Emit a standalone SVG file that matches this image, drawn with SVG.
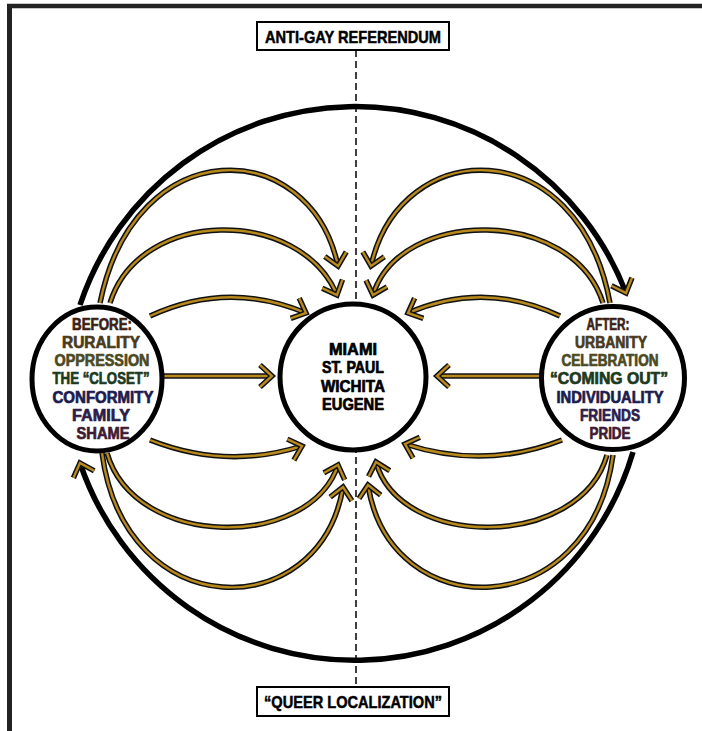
<svg xmlns="http://www.w3.org/2000/svg" width="702" height="731" viewBox="0 0 702 731">
<style>
  .frame{stroke:#222;fill:none}
  .blk{fill:none;stroke:#111;stroke-width:5.5}
  .gld{fill:none;stroke:#b8891c;stroke-width:2.4}
  .big{fill:none;stroke:#000;stroke-width:5.5}
  .node{fill:#fff;stroke:#000;stroke-width:5}
  .box{fill:#fff;stroke:#000;stroke-width:2}
  .t{font-family:"Liberation Sans",Arial,sans-serif;font-weight:700;text-anchor:middle;font-size:16px;stroke-width:0.7px;stroke-linejoin:round}
  .tt{font-family:"Liberation Sans",Arial,sans-serif;font-weight:700;text-anchor:middle;font-size:17px;fill:#000;stroke:#000;stroke-width:0.5px}
</style>
<defs>
  <marker id="ch" markerUnits="userSpaceOnUse" viewBox="-20 -16 26 32" refX="0" refY="0" markerWidth="26" markerHeight="32" orient="auto" overflow="visible">
    <path d="M-12,-11 L0,0 L-12,11" fill="none" stroke="#111" stroke-width="5.5" stroke-linejoin="miter"/>
    <path d="M-12,-11 L0,0 L-12,11" fill="none" stroke="#b8891c" stroke-width="2.4" stroke-linejoin="miter"/>
  </marker>
</defs>
<rect width="702" height="731" fill="#fff"/>
<g id="frame">
  <line class="frame" x1="7" y1="6" x2="702" y2="6" stroke-width="4.5"/>
  <line class="frame" x1="9.5" y1="4" x2="9.5" y2="731" stroke-width="5"/>
</g>
<g id="connectors">
  <line x1="356" y1="50" x2="356" y2="687" stroke="#000" stroke-width="1.5" stroke-dasharray="7,4"/>
  <path class="big" d="M80,305 A290,290 0 0 1 626,293" marker-end="url(#ch)"/>
  <path class="big" d="M633,452 A290,290 0 0 1 80,463" marker-end="url(#ch)"/>
  <g id="L1"><path class="blk" d="M100,303 C135,130 310,135 338,266"/><path class="gld" d="M100,303 C135,130 310,135 338,266" marker-end="url(#ch)"/></g>
  <g id="L2"><path class="blk" d="M110,303 C140,207 300,207 337,295"/><path class="gld" d="M110,303 C140,207 300,207 337,295" marker-end="url(#ch)"/></g>
  <g id="L3"><path class="blk" d="M150,316 Q228,280 306,313"/><path class="gld" d="M150,316 Q228,280 306,313" marker-end="url(#ch)"/></g>
  <g id="L4"><path class="blk" d="M158,376 L272,376"/><path class="gld" d="M158,376 L272,376" marker-end="url(#ch)"/></g>
  <g id="LB1"><path class="blk" d="M102,453 C125,626 320,626 343,487"/><path class="gld" d="M102,453 C125,626 320,626 343,487" marker-end="url(#ch)"/></g>
  <g id="LB2"><path class="blk" d="M107,453 C135,550 310,550 338,465"/><path class="gld" d="M107,453 C135,550 310,550 338,465" marker-end="url(#ch)"/></g>
  <g id="LB3"><path class="blk" d="M150,440 Q226,470 302,446"/><path class="gld" d="M150,440 Q226,470 302,446" marker-end="url(#ch)"/></g>
  <g id="R1"><path class="blk" d="M610,303 C578,130 400,135 371,266"/><path class="gld" d="M610,303 C578,130 400,135 371,266" marker-end="url(#ch)"/></g>
  <g id="R2"><path class="blk" d="M603,303 C573,207 400,207 373,295"/><path class="gld" d="M603,303 C573,207 400,207 373,295" marker-end="url(#ch)"/></g>
  <g id="R3"><path class="blk" d="M560,316 Q484,280 408,313"/><path class="gld" d="M560,316 Q484,280 408,313" marker-end="url(#ch)"/></g>
  <g id="R4"><path class="blk" d="M545,376 L437,376"/><path class="gld" d="M545,376 L437,376" marker-end="url(#ch)"/></g>
  <g id="RB1"><path class="blk" d="M613,455 C590,626 390,626 368,485"/><path class="gld" d="M613,455 C590,626 390,626 368,485" marker-end="url(#ch)"/></g>
  <g id="RB2"><path class="blk" d="M607,455 C580,550 400,550 376,462"/><path class="gld" d="M607,455 C580,550 400,550 376,462" marker-end="url(#ch)"/></g>
  <g id="RB3"><path class="blk" d="M562,440 Q485,470 405,444"/><path class="gld" d="M562,440 Q485,470 405,444" marker-end="url(#ch)"/></g>
</g>
<g id="top-label">
  <rect class="box" x="257" y="22" width="192" height="28"/>
  <text class="tt" x="353" y="42.5" textLength="176" lengthAdjust="spacingAndGlyphs">ANTI-GAY REFERENDUM</text>
</g>
<g id="bottom-label">
  <rect class="box" x="257" y="687" width="192" height="29"/>
  <text class="tt" x="353" y="708" textLength="178" lengthAdjust="spacingAndGlyphs">“QUEER LOCALIZATION”</text>
</g>
<g id="before">
  <ellipse class="node" cx="97" cy="379" rx="65" ry="72"/>
  <text class="t" x="102" y="329.5" fill="#3b1f14" stroke="#3b1f14" textLength="60" lengthAdjust="spacingAndGlyphs">BEFORE:</text>
  <text class="t" x="101" y="347.8" fill="#4a3a1e" stroke="#4a3a1e" textLength="78" lengthAdjust="spacingAndGlyphs">RURALITY</text>
  <text class="t" x="102" y="366" fill="#4b4a22" stroke="#4b4a22" textLength="95" lengthAdjust="spacingAndGlyphs">OPPRESSION</text>
  <text class="t" x="101" y="384.3" fill="#1e3a1e" stroke="#1e3a1e" textLength="97" lengthAdjust="spacingAndGlyphs">THE “CLOSET”</text>
  <text class="t" x="103" y="402.6" fill="#1c1c4e" stroke="#1c1c4e" textLength="101" lengthAdjust="spacingAndGlyphs">CONFORMITY</text>
  <text class="t" x="101" y="420.9" fill="#2c1c4a" stroke="#2c1c4a" textLength="58" lengthAdjust="spacingAndGlyphs">FAMILY</text>
  <text class="t" x="103" y="439.2" fill="#3e1a33" stroke="#3e1a33" textLength="53" lengthAdjust="spacingAndGlyphs">SHAME</text>
</g>
<g id="center">
  <circle class="node" cx="353" cy="377" r="73"/>
  <text class="t" x="353" y="355" fill="#000" stroke="#000" font-size="15" textLength="48" lengthAdjust="spacingAndGlyphs">MIAMI</text>
  <text class="t" x="353" y="373.3" fill="#000" stroke="#000" font-size="15" textLength="62" lengthAdjust="spacingAndGlyphs">ST. PAUL</text>
  <text class="t" x="353" y="391.6" fill="#000" stroke="#000" font-size="15" textLength="64" lengthAdjust="spacingAndGlyphs">WICHITA</text>
  <text class="t" x="353" y="409.9" fill="#000" stroke="#000" font-size="15" textLength="62" lengthAdjust="spacingAndGlyphs">EUGENE</text>
</g>
<g id="after">
  <circle class="node" cx="613" cy="378" r="71.5"/>
  <text class="t" x="608" y="329.5" fill="#3b1f14" stroke="#3b1f14" textLength="43" lengthAdjust="spacingAndGlyphs">AFTER:</text>
  <text class="t" x="611" y="347.8" fill="#4a3a1e" stroke="#4a3a1e" textLength="72" lengthAdjust="spacingAndGlyphs">URBANITY</text>
  <text class="t" x="610" y="366" fill="#4b4a22" stroke="#4b4a22" textLength="97" lengthAdjust="spacingAndGlyphs">CELEBRATION</text>
  <text class="t" x="609" y="384.3" fill="#1e3a1e" stroke="#1e3a1e" textLength="118" lengthAdjust="spacingAndGlyphs">“COMING OUT”</text>
  <text class="t" x="610" y="402.6" fill="#1c1c4e" stroke="#1c1c4e" textLength="107" lengthAdjust="spacingAndGlyphs">INDIVIDUALITY</text>
  <text class="t" x="610" y="420.9" fill="#2c1c4a" stroke="#2c1c4a" textLength="60" lengthAdjust="spacingAndGlyphs">FRIENDS</text>
  <text class="t" x="610" y="439.2" fill="#3e1a33" stroke="#3e1a33" textLength="41" lengthAdjust="spacingAndGlyphs">PRIDE</text>
</g>
</svg>
